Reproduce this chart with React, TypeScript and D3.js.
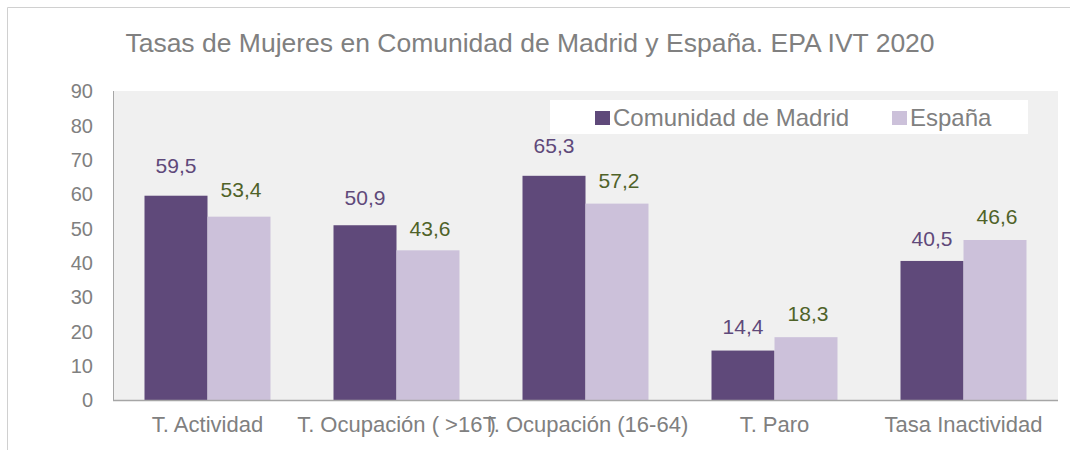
import React from "react";
import * as d3 from "d3";

const categories = [
  "T. Actividad",
  "T. Ocupación ( >16 )",
  "T. Ocupación (16-64)",
  "T. Paro",
  "Tasa Inactividad",
];
const seriesNames = ["Comunidad de Madrid", "España"];
const madrid = [59.5, 50.9, 65.3, 14.4, 40.5];
const espana = [53.4, 43.6, 57.2, 18.3, 46.6];
const yTicks = [0, 10, 20, 30, 40, 50, 60, 70, 80, 90];
const title = "Tasas de Mujeres en Comunidad de Madrid y España. EPA IVT 2020";

// layout: label lift above bar top (px), as placed in the original
const madridLift = [23, 20, 23, 17, 15];
const espanaLift = [20, 14, 16, 16, 16];

const W = 1070;
const H = 450;
const plot = { left: 113, right: 1058, top: 91, bottom: 400 };
const FONT = "'Liberation Sans', Arial, sans-serif";
const colors = ["#5f497a", "#ccc1da"];
const labelColors = ["#5f497a", "#4f6228"];
const textGray = "#808080";

export default function App() {
  const x = d3.scaleBand<string>().domain(categories).range([plot.left, plot.right]);
  const xs = d3
    .scaleBand<string>()
    .domain(seriesNames)
    .range([0, x.bandwidth()])
    .paddingInner(0)
    .paddingOuter(0.5);
  const y = d3.scaleLinear().domain([0, 90]).range([plot.bottom, plot.top]);
  const seriesData = [madrid, espana];
  const lifts = [madridLift, espanaLift];

  return (
    <>
      <style>{`body{margin:0}`}</style>
      <svg width={W} height={H} style={{ display: "block", fontFamily: FONT }}>
        <rect x={0} y={0} width={W} height={H} fill="#ffffff" />
        {/* frame */}
        <line x1={7.5} y1={7.5} x2={W} y2={7.5} stroke="#d0d0d0" />
        <line x1={7.5} y1={7.5} x2={7.5} y2={H} stroke="#d0d0d0" />

        <text x={530} y={52} textAnchor="middle" fontSize={26.5} fill={textGray}>
          {title}
        </text>

        {/* plot background */}
        <rect
          x={plot.left}
          y={plot.top}
          width={plot.right - plot.left}
          height={plot.bottom - plot.top}
          fill="#f0f0f0"
        />

        {/* y ticks */}
        {yTicks.map((t) => (
          <text
            key={t}
            x={93}
            y={y(t)}
            dy="0.36em"
            textAnchor="end"
            fontSize={20}
            fill={textGray}
          >
            {t}
          </text>
        ))}

        {/* bars */}
        {seriesData.map((vals, si) =>
          vals.map((v, i) => {
            const bx = (x(categories[i]) as number) + (xs(seriesNames[si]) as number);
            return (
              <rect
                key={`${si}-${i}`}
                x={bx}
                y={y(v)}
                width={xs.bandwidth()}
                height={y(0) - y(v)}
                fill={colors[si]}
              />
            );
          })
        )}

        {/* value labels */}
        {seriesData.map((vals, si) =>
          vals.map((v, i) => {
            const bx = (x(categories[i]) as number) + (xs(seriesNames[si]) as number);
            return (
              <text
                key={`l-${si}-${i}`}
                x={bx + xs.bandwidth() / 2 + (si === 1 ? 2 : 0)}
                y={y(v) - lifts[si][i]}
                textAnchor="middle"
                fontSize={21}
                fill={labelColors[si]}
              >
                {v.toFixed(1).replace(".", ",")}
              </text>
            );
          })
        )}

        {/* axes lines */}
        <line x1={plot.left + 0.5} y1={plot.top} x2={plot.left + 0.5} y2={plot.bottom} stroke="#a6a6a6" />
        <line x1={plot.left} y1={plot.bottom + 0.5} x2={plot.right} y2={plot.bottom + 0.5} stroke="#a6a6a6" strokeWidth={1.5} />

        {/* category labels */}
        {categories.map((c) => (
          <text
            key={c}
            x={(x(c) as number) + x.bandwidth() / 2}
            y={432}
            textAnchor="middle"
            fontSize={22}
            fill={textGray}
          >
            {c}
          </text>
        ))}

        {/* legend */}
        <rect x={550} y={100} width={478} height={34} fill="#ffffff" />
        {seriesNames.map((s, i) => {
          const lx = [595, 892][i];
          return (
            <g key={s}>
              <rect x={lx} y={111} width={15} height={14} fill={colors[i]} />
              <text x={lx + 18} y={126} fontSize={24} fill={textGray}>
                {s}
              </text>
            </g>
          );
        })}
      </svg>
    </>
  );
}
